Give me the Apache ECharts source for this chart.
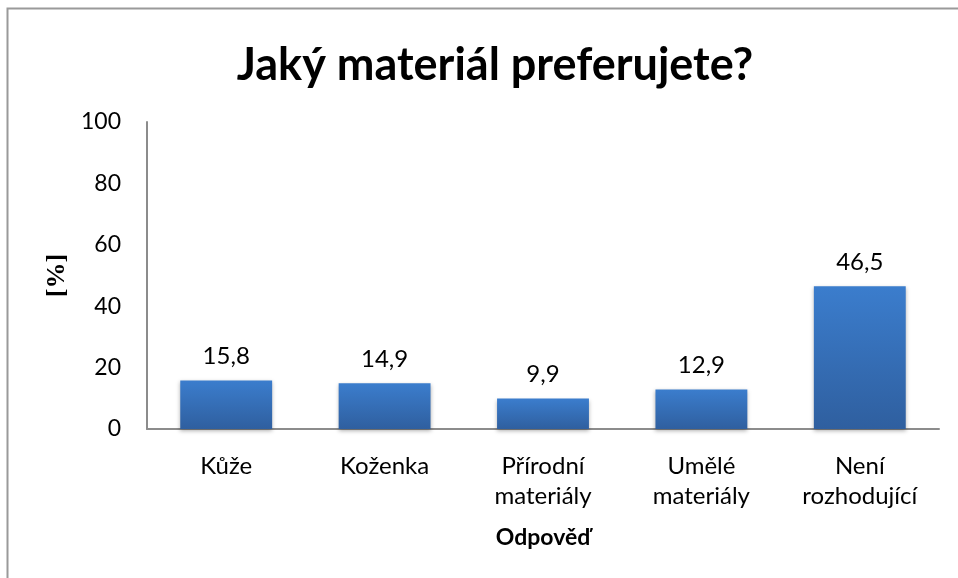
<!DOCTYPE html>
<html>
<head>
<meta charset="utf-8">
<script src="https://cdn.jsdelivr.net/npm/echarts@6/dist/echarts.min.js"></script>
<style>
html,body{margin:0;padding:0;background:#fff;}
#chart{width:958px;height:578px;}
</style>
</head>
<body>
<div id="chart"></div>
<script>
var categories = ['Kůže', 'Koženka', 'Přírodní\nmateriály', 'Umělé\nmateriály', 'Není\nrozhodující'];
var values = [15.8, 14.9, 9.9, 12.9, 46.5];
var yTicks = [0, 20, 40, 60, 80, 100];

var font = 'Lato, "Open Sans", sans-serif';
var myChart = echarts.init(document.getElementById('chart'));

var option = {
    animation: false,
    backgroundColor: '#fff',
    title: {
        text: 'Jaký materiál preferujete?',
        left: 490,
        textAlign: 'center',
        top: 38,
        textStyle: {fontFamily: font, fontSize: 45, fontWeight: 'bold', color: '#000'}
    },
    graphic: [{
        type: 'rect',
        shape: {x: 7.5, y: 8.5, width: 1200, height: 1200},
        style: {fill: null, stroke: '#9a9a9a', lineWidth: 2},
        silent: true
    }],
    grid: {left: 147, right: 19, top: 122, bottom: 149},
    xAxis: {
        type: 'category',
        data: categories,
        name: 'Odpověď',
        nameLocation: 'middle',
        nameGap: 97,
        nameTextStyle: {fontFamily: font, fontSize: 23, fontWeight: 'bold', color: '#000'},
        axisLine: {lineStyle: {color: '#8c8c8c', width: 2}},
        axisTick: {show: false},
        axisLabel: {fontFamily: font, fontSize: 24, color: '#000', margin: 22, lineHeight: 30}
    },
    yAxis: {
        type: 'value',
        min: yTicks[0],
        max: yTicks[yTicks.length - 1],
        interval: 20,
        name: '[%]',
        nameLocation: 'middle',
        nameRotate: 90,
        nameGap: 70,
        nameTextStyle: {fontFamily: '"Liberation Serif", serif', fontSize: 26, fontWeight: 'bold', color: '#000'},
        axisLine: {show: true, lineStyle: {color: '#8c8c8c', width: 2}},
        axisTick: {show: false},
        splitLine: {show: false},
        axisLabel: {fontFamily: font, fontSize: 23, color: '#000', margin: 26}
    },
    series: [{
        type: 'bar',
        data: values,
        barWidth: '58%',
        itemStyle: {
            color: new echarts.graphic.LinearGradient(0, 0, 0, 1, [
                {offset: 0, color: '#3b7dcd'},
                {offset: 1, color: '#2f5f9f'}
            ]),
            shadowColor: 'rgba(0,0,0,0.3)',
            shadowBlur: 4,
            shadowOffsetY: 2
        },
        label: {
            show: true,
            position: 'top',
            distance: 12,
            fontFamily: font,
            fontSize: 24,
            color: '#000',
            formatter: function (p) { return String(p.value).replace('.', ','); }
        }
    }]
};
myChart.setOption(option);
</script>
</body>
</html>
